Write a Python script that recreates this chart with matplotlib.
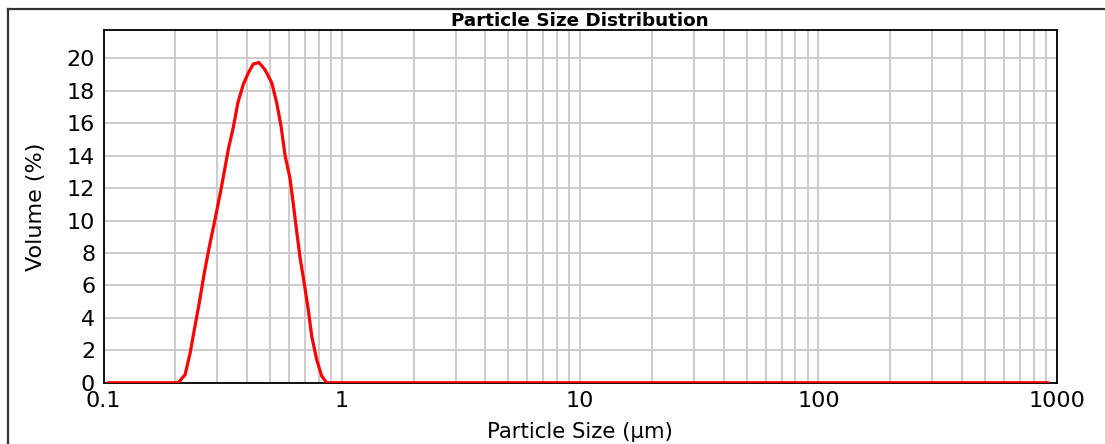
import matplotlib
matplotlib.use("Agg")
import matplotlib.pyplot as plt
from matplotlib.lines import Line2D
from matplotlib.ticker import FixedLocator, NullFormatter

# particle size (um) and volume (%)
size_um = [0.1045, 0.206, 0.220, 0.231, 0.242, 0.252, 0.265, 0.278, 0.294,
           0.310, 0.321, 0.334, 0.351, 0.366, 0.386, 0.405, 0.425, 0.449,
           0.476, 0.508, 0.533, 0.556, 0.578, 0.606, 0.626, 0.647, 0.668,
           0.696, 0.723, 0.748, 0.785, 0.824, 0.864, 919.0]
volume_pct = [0.0, 0.0, 0.5, 1.85, 3.5, 4.9, 6.8, 8.4, 10.1,
              11.8, 13.0, 14.4, 15.8, 17.25, 18.4, 19.1, 19.65, 19.75,
              19.3, 18.5, 17.25, 15.8, 14.0, 12.6, 11.0, 9.3, 7.7,
              6.1, 4.5, 2.85, 1.4, 0.4, 0.0, 0.0]

x_ticks = [0.1, 1, 10, 100, 1000]
x_tick_labels = ["0.1", "1", "10", "100", "1000"]
y_ticks = list(range(0, 21, 2))

fig = plt.figure(figsize=(11.05, 4.44), dpi=100)
ax = fig.add_axes([0.0937, 0.138, 0.8626, 0.7944])

ax.plot(size_um, volume_pct, color="red", lw=2.3, solid_joinstyle="round",
        solid_capstyle="round", zorder=3)

ax.set_xscale("log")
ax.set_xlim(0.1, 1000)
ax.set_ylim(0, 21.75)

ax.xaxis.set_major_locator(FixedLocator(x_ticks))
ax.set_xticklabels(x_tick_labels)
minor = [m * 10.0 ** e for e in range(-1, 3) for m in range(2, 10)]
ax.xaxis.set_minor_locator(FixedLocator(minor))
ax.xaxis.set_minor_formatter(NullFormatter())
ax.set_yticks(y_ticks)

ax.grid(True, which="both", axis="x", color="#c8c8c8", lw=1.3)
ax.grid(True, which="major", axis="y", color="#c8c8c8", lw=1.3)
ax.set_axisbelow(True)
ax.tick_params(which="both", length=0, labelsize=16)
ax.tick_params(axis="x", pad=6)
ax.tick_params(axis="y", pad=6)
for s in ax.spines.values():
    s.set_linewidth(1.3)
    s.set_color("black")

ax.set_title("Particle Size Distribution", fontsize=13.2, fontweight="bold", pad=0)
ax.set_ylabel("Volume (%)", fontsize=16, labelpad=15)
ax.set_xlabel("Particle Size (\u03bcm)", fontsize=15.3, labelpad=8)

# frame around the figure (top and left edges only are visible)
fig.add_artist(Line2D([8 / 1105, 1], [1 - 9 / 444, 1 - 9 / 444], color="#333333", lw=1.6))
fig.add_artist(Line2D([8 / 1105, 8 / 1105], [0, 1 - 9 / 444], color="#333333", lw=1.6))

fig.savefig("out.png", dpi=100)
plt.close(fig)
